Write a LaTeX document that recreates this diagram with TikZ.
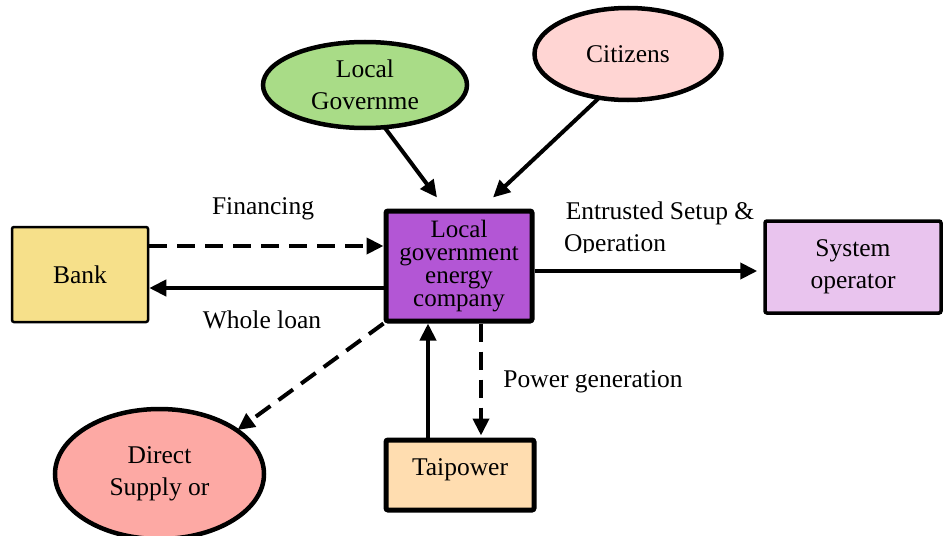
\documentclass[tikz,border=0pt]{standalone}
\usepackage{fontspec}
\setmainfont{Liberation Serif}
\usetikzlibrary{shapes.geometric,arrows.meta}
\definecolor{cpurple}{HTML}{B356D5}
\definecolor{cbank}{HTML}{F6E08A}
\definecolor{csys}{HTML}{E9C4EE}
\definecolor{ctai}{HTML}{FFDDB0}
\definecolor{cgov}{HTML}{A9DC87}
\definecolor{ccit}{HTML}{FFD5D3}
\definecolor{cdir}{HTML}{FDA9A4}
\newcommand{\lblfont}{\fontsize{25.5}{32}\selectfont}
\newcommand{\tightfont}{\fontsize{25}{22.7}\selectfont\lineskiplimit=-50pt}
\begin{document}
\begin{tikzpicture}[x=1pt,y=-1pt,
  boxnode/.style={draw, rectangle, rounded corners=2pt, align=center, inner sep=0pt, font=\lblfont},
  ellnode/.style={draw, ellipse, line width=4.5pt, align=center, inner sep=0pt, font=\lblfont},
  lbl/.style={font=\lblfont, inner sep=0pt},
  arr/.style={line width=4pt, -{Triangle[length=17pt,width=16pt]}},
  dsh/.style={arr, dash pattern=on 18pt off 10pt}]
\useasboundingbox (0,0) rectangle (944,535);
% nodes
\node[boxnode, fill=cpurple, line width=5pt, minimum width=146pt, minimum height=110pt, font=\tightfont] (lgec) at (459,266) {Local\\government\\energy\\company};
\node[boxnode, fill=cbank, line width=2.5pt, minimum width=136pt, minimum height=95pt] (bank) at (80,274.5) {Bank};
\node[boxnode, fill=csys, line width=3.5pt, minimum width=176pt, minimum height=92pt] (sysop) at (853,267) {System\\operator};
\node[boxnode, fill=ctai, line width=5pt, minimum width=148pt, minimum height=70pt, text depth=15pt] (tai) at (460,475) {Taipower};
\node[ellnode, fill=cgov, minimum width=204pt, minimum height=86pt] (gov) at (365,85) {Local\\Governme};
\node[ellnode, fill=ccit, minimum width=187pt, minimum height=92pt] (cit) at (628,54) {Citizens};
\node[ellnode, fill=cdir, minimum width=209pt, minimum height=130pt] (dir) at (159.5,474) {Direct\\Supply or};
% labels
\node[lbl] (fin) at (263,209) {Financing};
\node[lbl] (loan) at (262,320) {Whole loan};
\node[lbl] (ent) at (660,213) {Entrusted Setup \&};
\begin{scope}
\clip (550,228) rectangle (700,252.5);
\node[lbl] (oper) at (615,246) {Operation};
\end{scope}
\node[lbl] (pow) at (593,382) {Power generation};
% connectors
\draw[arr] ([shift={(20,43)}]gov.center) -- ([shift={(-22,-11)}]lgec.north);
\draw[arr] ([shift={(-28,43)}]cit.center) -- ([shift={(34,-11)}]lgec.north);
\draw[dsh] ([shift={(0,-28.5)}]bank.east) -- ([shift={(0,-20)}]lgec.west);
\draw[arr] ([shift={(0,22)}]lgec.west) -- ([shift={(0,13.5)}]bank.east);
\draw[arr] ([shift={(0,5)}]lgec.east) -- ([shift={(-6,4)}]sysop.west);
\draw[dsh] (lgec.south west) -- ([shift={(78,-44)}]dir.center);
\draw[arr] ([shift={(-32,0)}]tai.north) -- ([shift={(-31,0)}]lgec.south);
\draw[dsh] ([shift={(22,0)}]lgec.south) -- ([shift={(21,-2)}]tai.north);
\end{tikzpicture}
\end{document}
